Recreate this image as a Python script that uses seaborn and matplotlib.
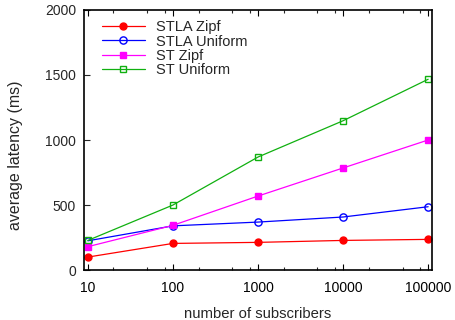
import matplotlib
matplotlib.use("Agg")
import matplotlib.pyplot as plt
import matplotlib.ticker as mticker
import numpy as np
import pandas as pd
import seaborn as sns

# number of subscribers (x) and average latency in ms for each configuration
subscribers = [10, 100, 1000, 10000, 100000]
stla_zipf = [100, 205, 213, 228, 236]
stla_uniform = [225, 340, 369, 408, 487]
st_zipf = [180, 344, 569, 785, 1000]
st_uniform = [228, 500, 869, 1148, 1467]

series_names = ["STLA Zipf", "STLA Uniform", "ST Zipf", "ST Uniform"]
series_values = [stla_zipf, stla_uniform, st_zipf, st_uniform]

sns.set_style("ticks")
plt.rcParams["font.family"] = ["Liberation Sans", "DejaVu Sans"]
plt.rcParams["font.size"] = 10

frames = []
for name, vals in zip(series_names, series_values):
    frames.append(pd.DataFrame({"subscribers": subscribers, "latency": vals, "series": name}))
df = pd.concat(frames, ignore_index=True)

styles = {
    "STLA Zipf": dict(color="#ff0000", marker="o", mfc="#ff0000", ms=5.0),
    "STLA Uniform": dict(color="#0000ff", marker="o", mfc="none", ms=5.2),
    "ST Zipf": dict(color="#ff00ff", marker="s", mfc="#ff00ff", ms=4.6),
    "ST Uniform": dict(color="#10b010", marker="s", mfc="none", ms=5.0),
}

fig = plt.figure(figsize=(4.56, 3.2), dpi=100)
ax = fig.add_axes([0.185, 0.156, 0.762, 0.813])

for name in series_names:
    st = styles[name]
    sub = df[df["series"] == name]
    sns.lineplot(data=sub, x="subscribers", y="latency", ax=ax, label=name,
                 color=st["color"], marker=st["marker"], markersize=st["ms"],
                 markerfacecolor=st["mfc"], markeredgecolor=st["color"],
                 markeredgewidth=1.0, linewidth=0.9, estimator=None, errorbar=None)

ax.set_xscale("log")
ax.set_xlim(9.1, 110500)
ax.set_ylim(0, 2000)
ax.xaxis.set_major_locator(mticker.FixedLocator(subscribers))
ax.xaxis.set_major_formatter(mticker.FixedFormatter([str(s) for s in subscribers]))
ax.xaxis.set_minor_locator(mticker.LogLocator(base=10, subs=[2, 5, 8]))
ax.xaxis.set_minor_formatter(mticker.NullFormatter())
ax.yaxis.set_major_locator(mticker.MultipleLocator(500))
ax.yaxis.set_minor_locator(mticker.NullLocator())

ax.tick_params(axis="x", which="major", direction="in", length=4.5, width=0.8,
               top=True, bottom=True, labelsize=10, pad=8, colors="black")
ax.tick_params(axis="x", which="minor", direction="in", length=2.3, width=0.8,
               top=True, bottom=True)
ax.tick_params(axis="y", which="major", direction="in", length=4.5, width=0.8,
               left=True, right=False, labelsize=10, pad=6)

for sp in ax.spines.values():
    sp.set_visible(True)
    sp.set_linewidth(1.2)
    sp.set_color("black")

ax.set_xlabel("number of subscribers", fontsize=10.7)
ax.set_ylabel("average latency (ms)", fontsize=11.5)
ax.xaxis.set_label_coords(0.5, -0.142)
ax.yaxis.set_label_coords(-0.178, 0.44)

ax.legend(loc="upper left", bbox_to_anchor=(0.02, 1.0), frameon=False,
          fontsize=10.5, handlelength=3.0, handletextpad=0.75, labelspacing=0.03,
          borderaxespad=0.3)

fig.savefig("out.png", dpi=100)
